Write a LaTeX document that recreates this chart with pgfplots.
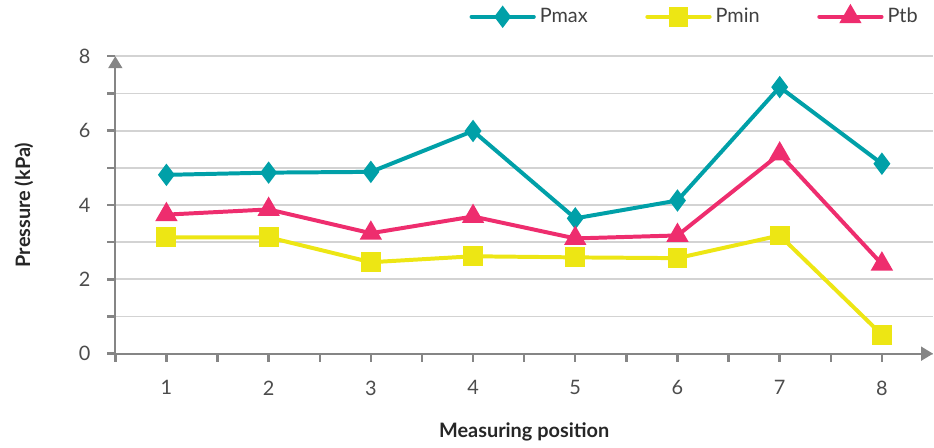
\documentclass[border=0pt]{standalone}
\usepackage{pgfplots}
\pgfplotsset{compat=1.18}
\usetikzlibrary{arrows.meta}
\usepackage{fontspec}
\setmainfont{Lato}
\definecolor{cmax}{HTML}{00A0A8}
\definecolor{cmin}{HTML}{EDE614}
\definecolor{ctb}{HTML}{EE2D6E}
\definecolor{axgray}{HTML}{858585}
\definecolor{grid}{HTML}{D3D3D3}
\begin{document}
\begin{tikzpicture}
\begin{axis}[
  scale only axis,
  width=411pt, height=149.5pt,
  xmin=0.5, xmax=8.5, ymin=0, ymax=8,
  axis lines=left,
  axis line style={draw=axgray, line width=1pt, -{Triangle[length=6pt,width=7pt]}},
  xtick={1,...,8},
  minor xtick={0.5,1.5,...,7.5},
  ytick={0,2,4,6,8},
  minor ytick={1,3,5,7},
  tick align=outside,
  major tick length=4pt, minor tick length=4pt,
  tick style={draw=axgray, line width=1.2pt},
  ymajorgrids, yminorgrids,
  major grid style={draw=grid, line width=0.9pt},
  minor grid style={draw=grid, line width=0.9pt},
  ticklabel style={font=\fontsize{10}{12}\selectfont, text=black!70},
  xticklabel style={yshift=-6pt},
  yticklabel style={xshift=-5pt},
  /pgf/number format/assume math mode=true,
  xlabel={Measuring position},
  ylabel={Pressure (kPa)},
  label style={font=\fontsize{10}{12}\selectfont\bfseries, text=black!85},
  xlabel style={yshift=-7pt},
  ylabel style={yshift=16pt},
  legend style={draw=none, fill=none, at={(0.994,1.075)}, anchor=south east,
    legend columns=3, font=\fontsize{10}{12}\selectfont, text=black!75,
    /tikz/every even column/.append style={column sep=27pt}},
  legend image code/.code={
    \draw[#1, line cap=round] (0cm,0cm) -- (1.1cm,0cm);
    \draw[#1, mark repeat=1] plot coordinates {(0.55cm,0cm)};
  },
  clip=false,
]
\addplot[cmax, line width=2pt, mark=diamond*, mark size=4pt, mark options={solid}] coordinates {
  (1,4.81) (2,4.87) (3,4.89) (4,5.99) (5,3.64) (6,4.12) (7,7.17) (8,5.11)
};
\addlegendentry{Pmax}
\addplot[cmin, line width=2pt, mark=square*, mark size=4pt] coordinates {
  (1,3.13) (2,3.13) (3,2.46) (4,2.62) (5,2.59) (6,2.57) (7,3.18) (8,0.51)
};
\addlegendentry{Pmin}
\addplot[ctb, line width=2pt, mark=triangle*, mark size=4.5pt] coordinates {
  (1,3.74) (2,3.88) (3,3.24) (4,3.69) (5,3.10) (6,3.18) (7,5.37) (8,2.41)
};
\addlegendentry{Ptb}
\end{axis}
\path ([xshift=-4pt]current bounding box.south west);
\end{tikzpicture}
\end{document}
